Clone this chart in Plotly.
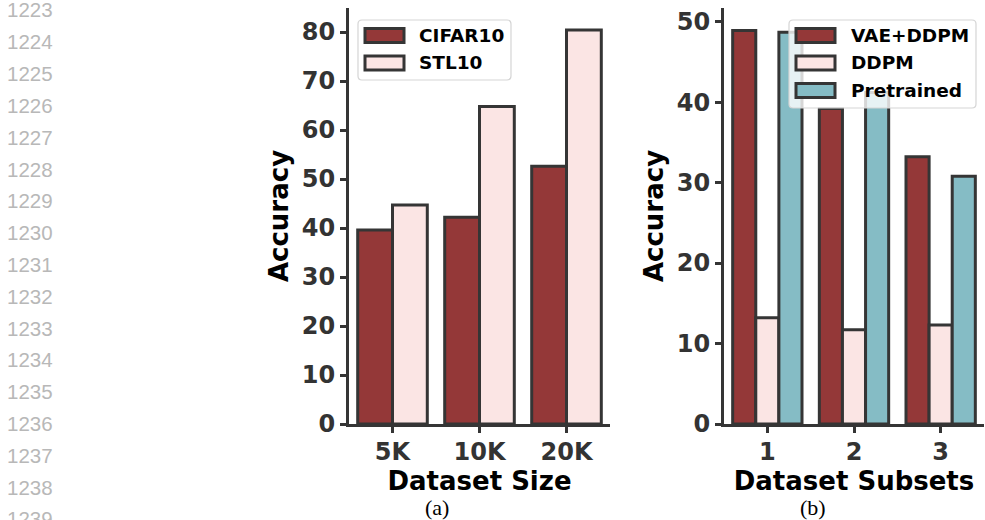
import plotly.graph_objects as go

# ---------------- data ----------------
sizes = ["5K", "10K", "20K"]
cifar10 = [39.6, 42.2, 52.6]
stl10 = [44.7, 64.8, 80.4]

subsets = ["1", "2", "3"]
vae_ddpm = [48.9, 39.2, 33.2]
ddpm = [13.2, 11.7, 12.3]
pretrained = [48.7, 41.2, 30.8]

yticks_a = [0, 10, 20, 30, 40, 50, 60, 70, 80]
yticks_b = [0, 10, 20, 30, 40, 50]

line_numbers = ["1223", "1224", "1225", "1226", "1227", "1228", "1229", "1230",
                "1231", "1232", "1233", "1234", "1235", "1236", "1237", "1238", "1239"]

# ---------------- style ----------------
W, H = 985, 520
L, R, T, B = 250, 1, 8, 96
PW, PH = W - L - R, H - T - B

RED = "#943838"
PINK = "#fbe5e4"
TEAL = "#85bcc5"
EDGE = "#353535"
AX = "#353535"
FONT = "DejaVu Sans"


def px(x):
    return (x - L) / PW


def py(y):
    return 1 - (y - T) / PH


fig = go.Figure()


def bar(x, y, name, color, xa, ya):
    return go.Bar(x=x, y=y, name=name, xaxis=xa, yaxis=ya, showlegend=False,
                  marker=dict(color=color, line=dict(color=EDGE, width=3)))


fig.add_trace(bar(sizes, cifar10, "CIFAR10", RED, "x", "y"))
fig.add_trace(bar(sizes, stl10, "STL10", PINK, "x", "y"))
fig.add_trace(bar(subsets, vae_ddpm, "VAE+DDPM", RED, "x2", "y2"))
fig.add_trace(bar(subsets, ddpm, "DDPM", PINK, "x2", "y2"))
fig.add_trace(bar(subsets, pretrained, "Pretrained", TEAL, "x2", "y2"))

tickfont = dict(family=FONT, size=24, color="#333333", weight="bold")
titlefont = dict(family=FONT, size=26, color="#000000", weight="bold")

common_x = dict(type="category", range=[-0.5, 2.5], showline=True, linecolor=AX, linewidth=3,
                ticks="outside", ticklen=6, tickwidth=3, tickcolor=AX, tickfont=tickfont,
                showgrid=False, zeroline=False, automargin=False, ticklabelstandoff=-2)
common_y = dict(showline=True, linecolor=AX, linewidth=3, ticks="outside", ticklen=6,
                tickwidth=3, tickcolor=AX, tickfont=tickfont, showgrid=False,
                zeroline=False, automargin=False, domain=[0, 1])

fig.update_layout(
    width=W, height=H,
    margin=dict(l=L, r=R, t=T, b=B),
    paper_bgcolor="white", plot_bgcolor="white",
    barmode="group", bargap=0.2, bargroupgap=0,
    xaxis=dict(common_x, domain=[px(349), px(610)], anchor="y",
               title=dict(text="Dataset Size", font=titlefont, standoff=8)),
    yaxis=dict(common_y, anchor="x", range=[0, 84.9], tickvals=yticks_a,
               title=dict(text="Accuracy", font=titlefont, standoff=6)),
    xaxis2=dict(common_x, domain=[px(724), px(984)], anchor="y2",
                title=dict(text="Dataset Subsets", font=titlefont, standoff=8)),
    yaxis2=dict(common_y, anchor="x2", range=[0, 51.7], tickvals=yticks_b,
                title=dict(text="Accuracy", font=titlefont, standoff=6)),
)


def rounded_rect(x0, y0, x1, y1, r):
    # pixel coordinates -> paper path
    pts = [
        f"M{px(x0 + r)},{py(y0)}",
        f"L{px(x1 - r)},{py(y0)}",
        f"Q{px(x1)},{py(y0)} {px(x1)},{py(y0 + r)}",
        f"L{px(x1)},{py(y1 - r)}",
        f"Q{px(x1)},{py(y1)} {px(x1 - r)},{py(y1)}",
        f"L{px(x0 + r)},{py(y1)}",
        f"Q{px(x0)},{py(y1)} {px(x0)},{py(y1 - r)}",
        f"L{px(x0)},{py(y0 + r)}",
        f"Q{px(x0)},{py(y0)} {px(x0 + r)},{py(y0)}",
        "Z",
    ]
    return " ".join(pts)


shapes = []
annotations = []


def legend(box, sw_x, text_x, entries):
    x0, y0, x1, y1 = box
    shapes.append(dict(type="path", xref="paper", yref="paper",
                       path=rounded_rect(x0, y0, x1, y1, 4),
                       fillcolor="rgba(255,255,255,0.8)",
                       line=dict(color="#d5d5d5", width=1.2), layer="above"))
    for name, color, yc in entries:
        shapes.append(dict(type="rect", xref="paper", yref="paper",
                           x0=px(sw_x), x1=px(sw_x + 39), y0=py(yc - 7), y1=py(yc + 7),
                           fillcolor=color, line=dict(color=EDGE, width=3), layer="above"))
        annotations.append(dict(text=name, xref="paper", yref="paper", x=px(text_x), y=py(yc),
                                xanchor="left", yanchor="middle", showarrow=False,
                                font=dict(family=FONT, size=18.5, color="#000000", weight="bold")))


legend((358, 20, 511, 80), 365, 417, [("CIFAR10", RED, 35.5), ("STL10", PINK, 63)])
legend((789, 20, 976, 108), 796, 849,
       [("VAE+DDPM", RED, 35.5), ("DDPM", PINK, 63), ("Pretrained", TEAL, 90.5)])

# captions
for txt, xc in [("(a)", 437), ("(b)", 813)]:
    annotations.append(dict(text=txt, xref="paper", yref="paper", x=px(xc), y=py(507),
                            xanchor="center", yanchor="middle", showarrow=False,
                            font=dict(family="Liberation Serif", size=22, color="#000000")))

# line numbers
for i, ln in enumerate(line_numbers):
    annotations.append(dict(text=ln, xref="paper", yref="paper", x=px(5), y=py(10 + i * 31.8),
                            xanchor="left", yanchor="middle", showarrow=False,
                            font=dict(family="Liberation Sans", size=20.5, color="#b8b8b8")))

fig.update_layout(shapes=shapes, annotations=annotations)

fig.write_html("out.html", config={"displayModeBar": False},
               post_script="document.body.style.margin='0';")
